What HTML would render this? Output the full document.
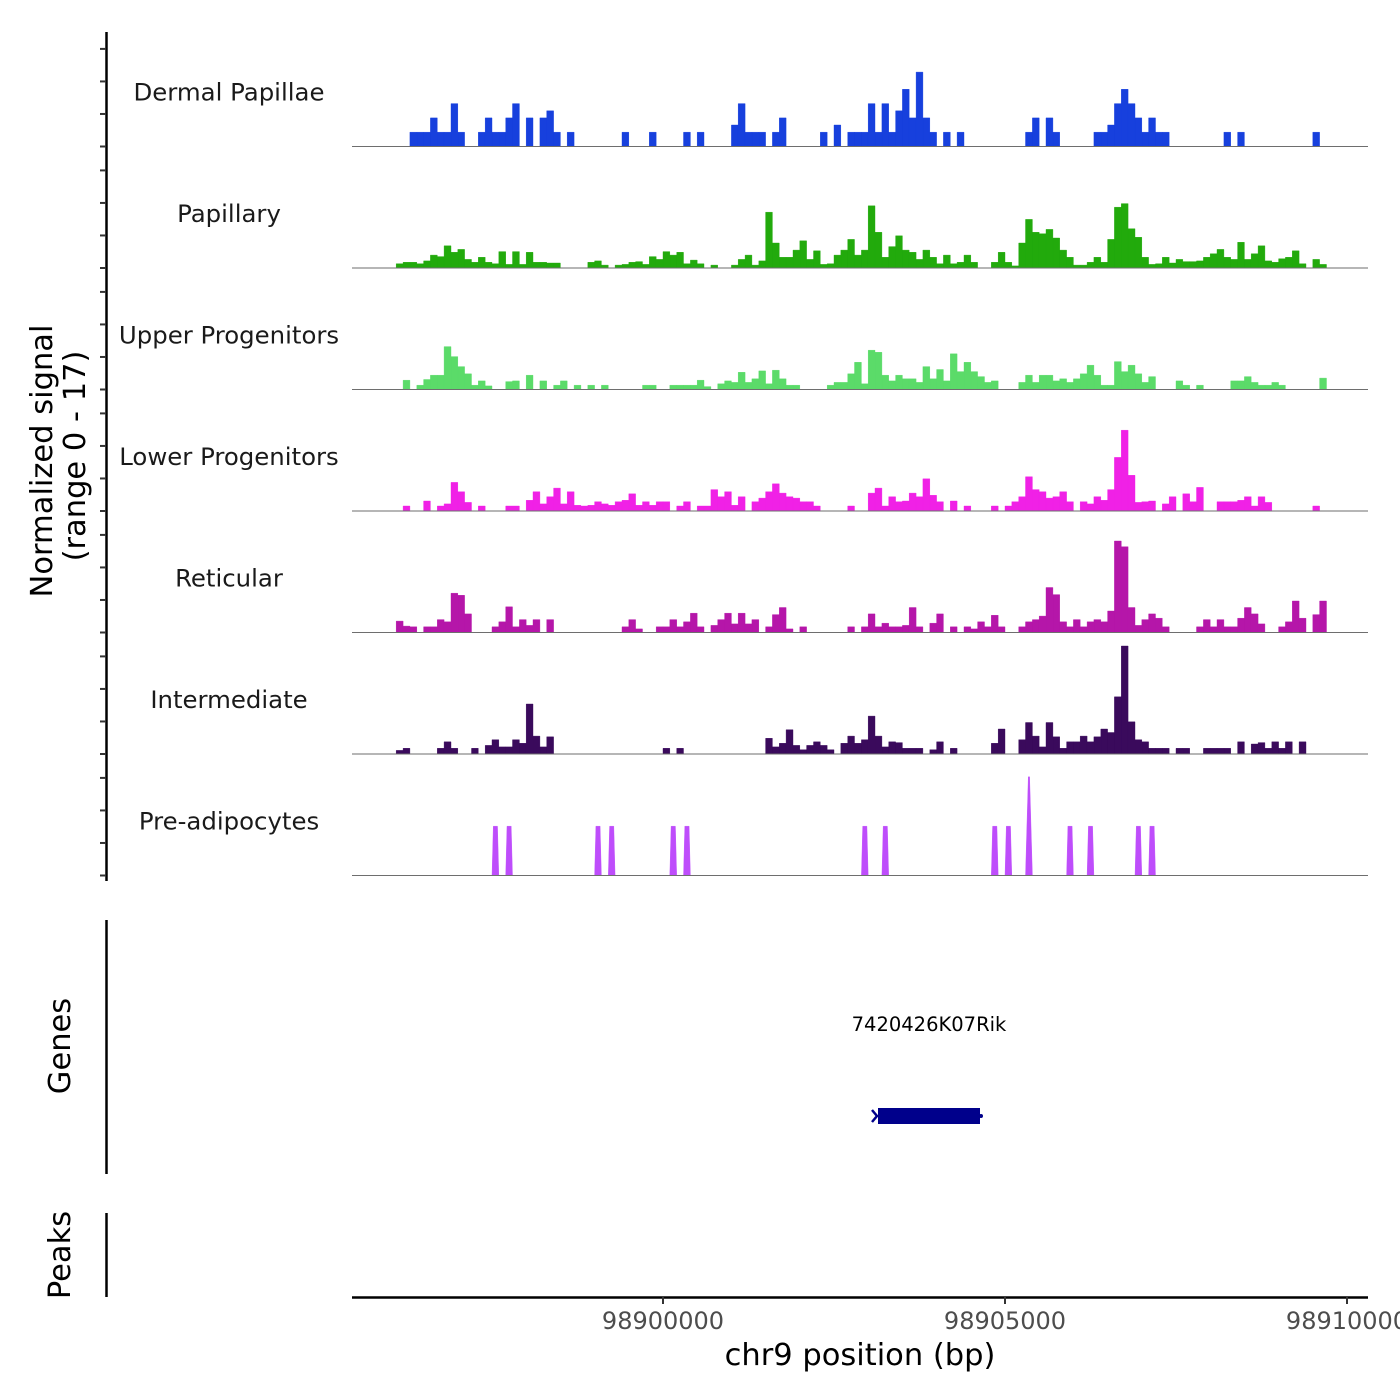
<!DOCTYPE html>
<html><head><meta charset="utf-8"><style>
html,body{margin:0;padding:0;background:#fff;}
svg{display:block;font-family:"DejaVu Sans","Liberation Sans",sans-serif;}
</style></head><body>
<svg id="chart" width="1400" height="1400" viewBox="0 0 1400 1400" xmlns="http://www.w3.org/2000/svg">
<g id="tracks"></g>
<g id="axes"></g>
<text transform="translate(52,461) rotate(-90)" text-anchor="middle" font-size="30.5" fill="#000">Normalized signal</text>
<text transform="translate(85,456) rotate(-90)" text-anchor="middle" font-size="30.5" fill="#000">(range 0 - 17)</text>
<line x1="106.5" y1="920" x2="106.5" y2="1174" stroke="#000" stroke-width="2.5"/>
<text transform="translate(70,1046) rotate(-90)" text-anchor="middle" font-size="30.5" fill="#000">Genes</text>
<text x="929" y="1031" text-anchor="middle" font-size="19.5" fill="#000">7420426K07Rik</text>
<g>
<rect x="878" y="1108" width="102" height="16" fill="#00008B"/>
<path d="M872,1110 L877,1116 L872,1122" stroke="#00008B" stroke-width="2.5" fill="none"/>
<circle cx="981" cy="1116" r="2" fill="#00008B"/>
</g>
<line x1="106.5" y1="1213" x2="106.5" y2="1297" stroke="#000" stroke-width="2.5"/>
<text transform="translate(70,1255) rotate(-90)" text-anchor="middle" font-size="30.5" fill="#000">Peaks</text>
<g id="xaxis"></g>
<text x="860" y="1365" text-anchor="middle" font-size="30.5" fill="#000">chr9 position (bp)</text>
</svg>
<script>
// ---- data ----
const trackNames = ["Dermal Papillae","Papillary","Upper Progenitors","Lower Progenitors","Reticular","Intermediate","Pre-adipocytes"];
const trackColors = ["#1740DD","#22AA0C","#5BDB69","#F021E6","#B516A9","#3A0A5C","#BE4DFB"];
const binStartBp = 98896000;
const binSizeBp = 100;
const xTicks = [98900000, 98905000, 98910000];
const xTickLabels = ["98900000","98905000","98910000"];
const yTickValues = [0, 4.55, 9.1, 13.65];
const dermal = [
0,0,0,2,2,2,4,2,2,6, 2,0,0,2,4,2,2,4,6,0, 4,0,4,5,2,0,2,0,0,0, 0,0,0,0,2,0,0,0,2,0,
0,0,0,2,0,2,0,0,0,0, 3,6,2,2,2,0,2,4,0,0, 0,0,0,2,0,3,0,2,2,2, 6,2,6,2,5,8,4,10.4,4,2,
0,2,0,2,0,0,0,0,0,0, 0,0,0,2,4,0,4,2,0,0, 0,0,0,2,2,3,6,8,6,4, 2,4,2,2,0,0,0,0,0,0,
0,0,2,0,2,0,0,0,0,0, 0,0,0,0,0,2,0,0,0,0, 0,0];
const papillary = [
0,0.6,0.8,0.8,0.6,1.0,1.8,1.6,3.1,2.2, 2.6,1.2,0.8,1.5,0.8,0.6,2.3,0.5,2.3,0.5, 2.2,0.8,0.8,0.7,0.7,0,0,0,0,0.8, 1.0,0.4,0,0.4,0.5,0.8,0.9,0.5,1.6,1.2,
2.3,1.8,2.2,0.6,1.1,0.6,0,0.4,0,0, 0.4,1.2,1.8,0.4,1.0,7.8,3.5,1.5,1.5,2.5, 3.8,1.2,2.4,0.5,0.6,1.8,2.5,4,1.8,2.5, 8.7,5,1.5,3,4.5,2.5,2.2,1.2,2.5,1.5,
0.6,1.8,0.6,0.8,1.8,0.8,0,0,0.8,2.2, 0.8,0.3,3.5,6.8,5,4.8,5.4,4.2,2.5,1.5, 0.4,0.4,0.8,1.5,0.8,4,8.5,9,5.5,4.3, 1.5,0.5,0.6,1.5,0.7,1.2,0.9,0.9,1,1.5,
2,2.6,1.5,1.2,3.6,1.2,2,3.1,1,0.8, 1.3,1.5,2.4,0.6,0,1.2,0.5,0,0,0, 0,0];
const upper = [
0,0,1.3,0,0.6,1.4,2,2,6,4.6, 3.2,2.2,0.6,1.2,0.5,0,0,1.1,1.2,0, 2,0,1.2,0,0.6,1.2,0,0.6,0,0.6, 0,0.6,0,0,0,0,0,0.6,0.6,0,
0,0.6,0.6,0.6,0.6,1.3,0.4,0,0.8,1.2, 1,2.4,1,1.5,2.6,0.8,2.7,1.5,0.6,0.6, 0,0,0,0,0.6,1,1,2.2,3.8,0.8, 5.5,5.2,2,1.2,2,1.5,1.5,1,3.2,1.5,
2.8,1.2,5,2.5,3.8,2.5,1.8,1.0,1.2,0, 0,0,1,2,1,2,2,1.2,1.5,1.0, 1.5,2.2,3.4,2,0.6,0.6,3.9,2.5,3.4,2.2, 1,1.8,0,0,0,1.2,0.6,0,0.6,0,
0,0,0,1.2,1.2,1.8,1,0.6,0.6,1, 0.6,0,0,0,0,0,1.6,0,0,0, 0,0];
const lower = [
0,0,0.7,0,0,1.4,0,0.7,1,4, 2.7,1.2,0,0.7,0,0,0,0.7,0.7,0, 1.5,2.7,1,2,3.2,1,2.7,0.8,0.7,0.8, 1.3,1,0.8,1.3,1.5,2.4,0.8,1.3,0.8,1.3,
1.3,0,0.7,1.3,0,0.7,0.7,3,2,2.7, 0.8,2,0,1.3,1.8,2.7,3.8,2.5,2,1.8, 1.3,1.3,0.7,0,0,0,0,0.7,0,0, 2.5,3.2,0.7,2,1.3,1.4,2.5,2,4.5,2.2,
1.3,0,1.4,0,0.7,0,0,0,0.7,0, 0.7,1.3,2,4.8,3,2.7,1.8,2,2.7,1.3, 0,1.3,1,2,1.5,3,7.5,11.3,5,1.2, 1.3,1.4,0,1,2,0,2.4,1.3,3.3,0,
0,1.3,1.3,1.3,1.5,2,0.7,2,1.2,0, 0,0,0,0,0,0.7,0,0,0,0, 0,0];
const reticular = [
0,1.6,0.9,0.8,0,0.8,0.8,1.8,1.5,5.5, 5.2,2.6,0,0,0,0.8,1.5,3.6,0.8,1.8, 1.0,1.8,0,1.8,0,0,0,0,0,0, 0,0,0,0,0.8,1.8,0.5,0,0,0.8,
0.8,1.8,0.8,1.5,2.7,0.8,0,1,1.8,2.7, 1.2,2.7,1.2,1.8,0,0.8,2.5,3.5,0.5,0, 0.8,0,0,0,0,0,0,0.8,0,0.8, 2.6,0.8,1.3,0.8,0.8,1,3.5,0.8,0,1.3,
2.6,0,0.8,0,0.8,0.5,1.5,0.8,2.4,0.8, 0,0,0.8,1.5,1.8,2.3,6.3,5.3,1.5,0.8, 1.8,0.8,1.5,1.8,1.5,3,12.8,12,3.5,1, 1.8,2.6,2,0.8,0,0,0,0,0.8,1.8,
0.8,1.8,0.8,0.8,2,3.5,2.6,1.2,0,0, 0.8,1.5,4.4,2,0,2.5,4.4,0,0,0, 0,0];
const intermediate = [
0,0.5,0.8,0,0,0,0,0.8,1.7,0.8, 0,0,0.8,0,1.2,2,1,1,2,1.5, 7,2.5,1,2.4,0,0,0,0,0,0, 0,0,0,0,0,0,0,0,0,0,
0.8,0,0.8,0,0,0,0,0,0,0, 0,0,0,0,0,2.2,1,1.5,3.4,1.2, 0.6,1.2,1.7,1.2,0.6,0,1.5,2.5,1.5,2, 5.3,2.5,1,1.7,1.6,0.8,0.8,0.8,0,0.6,
1.7,0,0.8,0,0,0,0,0,1.5,3.5, 0,0,2,4.4,2.5,1,4.4,2.4,0.8,1.7, 1.7,2.5,1.7,2.4,3.5,3,8,15.1,4.5,2, 1.7,0.8,0.8,0.8,0,0.8,0.8,0,0,0.8,
0.8,0.8,0.8,0,1.7,0,1.4,1.6,0.8,1.7, 0.8,1.7,0,1.7,0,0,0,0,0,0, 0,0];
const preadipocytes = [
0,0,0,0,0,0,0,0,0,0, 0,0,0,0,0,6.9,0,6.9,0,0, 0,0,0,0,0,0,0,0,0,0, 6.9,0,6.9,0,0,0,0,0,0,0,
0,6.9,0,6.9,0,0,0,0,0,0, 0,0,0,0,0,0,0,0,0,0, 0,0,0,0,0,0,0,0,0,6.9, 0,0,6.9,0,0,0,0,0,0,0,
0,0,0,0,0,0,0,0,6.9,0, 6.9,0,0,13.8,0,0,0,0,0,6.9, 0,0,6.9,0,0,0,0,0,0,6.9, 0,6.9,0,0,0,0,0,0,0,0,
0,0,0,0,0,0,0,0,0,0, 0,0,0,0,0,0,0,0,0,0, 0,0];
const trackData = [dermal, papillary, upper, lower, reticular, intermediate, preadipocytes];

// ---- scales ----
const NS = "http://www.w3.org/2000/svg";
const xRef = 98900000, xRefPx = 663, pxPerBp = 342/5000;
function xScale(bp){ return xRefPx + (bp - xRef) * pxPerBp; }
const firstBaseline = 146.5, trackStep = 121.5, pxPerUnit = 7.15;
function baseline(t){ return firstBaseline + t * trackStep; }
function yScale(t, v){ return baseline(t) - v * pxPerUnit; }
const plotX0 = 352, plotX1 = 1368;

const tracksG = document.getElementById('tracks');
trackData.forEach((vals, t) => {
  const g = document.createElementNS(NS, 'g');
  
  
  tracksG.appendChild(g);
  const b = baseline(t);
  let d = '';
  vals.forEach((v, i) => {
    if (v <= 0) return;
    const x0 = xScale(binStartBp + i*binSizeBp), x1 = xScale(binStartBp + (i+1)*binSizeBp);
    const y = yScale(t, v);
    if (t === 6) {
      const inset = v > 10 ? 2.8 : 1.3;
      d += `M${x0.toFixed(1)},${b}L${(x0+inset).toFixed(1)},${y.toFixed(1)}L${(x1-inset).toFixed(1)},${y.toFixed(1)}L${x1.toFixed(1)},${b}Z`;
    } else {
      d += `M${x0.toFixed(1)},${b}L${x0.toFixed(1)},${y.toFixed(1)}L${x1.toFixed(1)},${y.toFixed(1)}L${x1.toFixed(1)},${b}Z`;
    }
  });
  const p = document.createElementNS(NS, 'path');
  p.setAttribute('d', d);
  p.setAttribute('fill', trackColors[t]);
  p.setAttribute('stroke', trackColors[t]);
  p.setAttribute('stroke-width', '0.4');
  
  
  g.appendChild(p);
  const ln = document.createElementNS(NS, 'line');
  ln.setAttribute('x1', plotX0); ln.setAttribute('x2', plotX1);
  ln.setAttribute('y1', b); ln.setAttribute('y2', b);
  ln.setAttribute('stroke', '#6e6e6e'); ln.setAttribute('stroke-width', '1');
  
  
  g.appendChild(ln);
  const tx = document.createElementNS(NS, 'text');
  tx.setAttribute('x', 229); tx.setAttribute('y', b - 46);
  tx.setAttribute('text-anchor', 'middle');
  tx.setAttribute('font-size', '24.4');
  tx.setAttribute('fill', '#1a1a1a');
  tx.textContent = trackNames[t];
  
  
  g.appendChild(tx);
});

// left y-axis
const axesG = document.getElementById('axes');
const yl = document.createElementNS(NS, 'line');
yl.setAttribute('x1', 106.5); yl.setAttribute('x2', 106.5);
yl.setAttribute('y1', 32); yl.setAttribute('y2', 881);
yl.setAttribute('stroke', '#000'); yl.setAttribute('stroke-width', '2.5');


axesG.appendChild(yl);
for (let t = 0; t < trackData.length; t++) {
  yTickValues.forEach(v => {
    const y = yScale(t, v);
    const tk = document.createElementNS(NS, 'line');
    tk.setAttribute('x1', 100); tk.setAttribute('x2', 106);
    tk.setAttribute('y1', y); tk.setAttribute('y2', y);
    tk.setAttribute('stroke', '#333'); tk.setAttribute('stroke-width', '2');
    
    
    axesG.appendChild(tk);
  });
}

// x-axis
const xg = document.getElementById('xaxis');
const xl = document.createElementNS(NS, 'line');
xl.setAttribute('x1', plotX0); xl.setAttribute('x2', plotX1);
xl.setAttribute('y1', 1297.5); xl.setAttribute('y2', 1297.5);
xl.setAttribute('stroke', '#000'); xl.setAttribute('stroke-width', '2.5');


xg.appendChild(xl);
xTicks.forEach((bp, i) => {
  const x = xScale(bp);
  const tk = document.createElementNS(NS, 'line');
  tk.setAttribute('x1', x); tk.setAttribute('x2', x);
  tk.setAttribute('y1', 1297); tk.setAttribute('y2', 1304);
  tk.setAttribute('stroke', '#333'); tk.setAttribute('stroke-width', '2');
  
  
  xg.appendChild(tk);
  const lb = document.createElementNS(NS, 'text');
  lb.setAttribute('x', x); lb.setAttribute('y', 1329);
  lb.setAttribute('text-anchor', 'middle');
  lb.setAttribute('font-size', '24');
  lb.setAttribute('fill', '#4d4d4d');
  lb.textContent = xTickLabels[i];
  
  
  xg.appendChild(lb);
});
</script>
</body></html>
